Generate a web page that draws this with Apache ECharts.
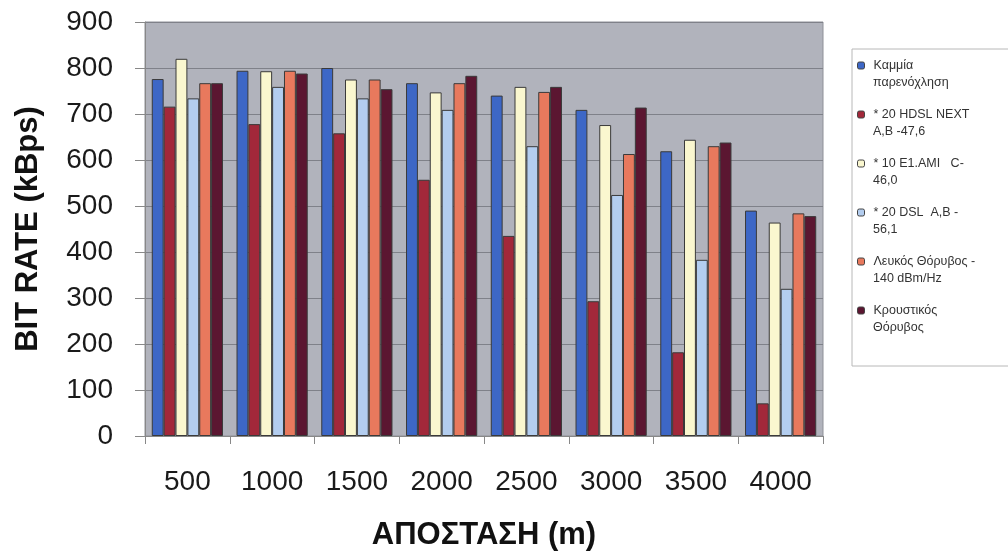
<!DOCTYPE html>
<html>
<head>
<meta charset="utf-8">
<script src="https://cdn.jsdelivr.net/npm/echarts@6/dist/echarts.min.js"></script>
<style>html,body{margin:0;padding:0;background:#fff}#c{width:1008px;height:558px}</style>
</head>
<body>
<div id="c"></div>
<script>
const categories = ['500','1000','1500','2000','2500','3000','3500','4000'];
const seriesNames = ['Καμμία παρενόχληση','* 20 HDSL NEXT A,B -47,6','* 10 E1.AMI C-46,0','* 20 DSL A,B -56,1','Λευκός Θόρυβος -140 dBm/Hz','Κρουστικός Θόρυβος'];
const legendLine1 = ['Καμμία','* 20 HDSL NEXT','* 10 E1.AMI   C-','* 20 DSL  A,B -','Λευκός Θόρυβος -','Κρουστικός'];
const legendLine2 = ['παρενόχληση','A,B -47,6','46,0','56,1','140 dBm/Hz','Θόρυβος'];
const colors = ['#3d67c6','#a2283a','#faf7cf','#b3cdef','#e8795d','#5b1631'];
const noInterference = [776,794,800,767,740,709,619,490];
const hdslNext = [716,678,658,557,435,293,182,71];
const e1ami = [820,793,775,747,759,676,644,464];
const dsl = [734,759,734,709,630,524,383,320];
const whiteNoise = [767,794,775,767,748,613,630,484];
const impulseNoise = [767,788,754,783,759,714,638,478];
const yTicks = [0,100,200,300,400,500,600,700,800,900];
const values = [noInterference,hdslNext,e1ami,dsl,whiteNoise,impulseNoise];

const chart = echarts.init(document.getElementById('c'));
const font = 'Liberation Sans, Arial, sans-serif';
chart.setOption({
  animation:false,
  backgroundColor:'#ffffff',
  grid:{left:145,right:185,top:22,bottom:122,show:true,backgroundColor:'#b1b3bc',borderColor:'#8e9098',borderWidth:1},
  graphic:[{type:'rect',shape:{x:852,y:49,width:200,height:317},style:{fill:'#fff',stroke:'#b8b8b8',lineWidth:1},z:0}],
  legend:[{
    orient:'vertical',left:852,top:54,itemWidth:7,itemHeight:7,itemGap:36,
    data:seriesNames,
    formatter:n=>legendLine1[seriesNames.indexOf(n)],
    textStyle:{fontFamily:font,fontSize:12.5,color:'#333',padding:[0,0,0,4]},
    itemStyle:{borderWidth:1,borderColor:'#444'}
  },{
    orient:'vertical',left:852,top:71,itemWidth:7,itemHeight:7,itemGap:36,
    data:seriesNames.map(n=>({name:n,icon:'none'})),
    formatter:n=>legendLine2[seriesNames.indexOf(n)],
    textStyle:{fontFamily:font,fontSize:12.5,color:'#333',padding:[0,0,0,4]}
  }],
  xAxis:{
    type:'category',data:categories,
    name:'ΑΠΟΣΤΑΣΗ (m)',nameLocation:'middle',nameGap:84,
    nameTextStyle:{fontFamily:font,fontSize:31,fontWeight:'bold',color:'#111'},
    axisLine:{lineStyle:{color:'#888',width:1}},
    axisTick:{show:true,length:8,lineStyle:{color:'#888'}},
    axisLabel:{fontFamily:font,fontSize:28,color:'#1a1a1a',margin:32}
  },
  yAxis:{
    type:'value',min:0,max:900,interval:100,
    name:'BIT RATE (kBps)',nameLocation:'middle',nameGap:101,
    nameTextStyle:{fontFamily:font,fontSize:31,fontWeight:'bold',color:'#111'},
    axisLine:{show:true,lineStyle:{color:'#888'}},
    axisTick:{show:true,length:10,lineStyle:{color:'#888'}},
    axisLabel:{fontFamily:font,fontSize:28,color:'#1a1a1a',margin:32,
      formatter:v=>yTicks.includes(v)?String(v):''},
    splitLine:{lineStyle:{color:'#7f8189',width:1}}
  },
  series:values.map((d,i)=>({
    type:'bar',name:seriesNames[i],data:d,
    barGap:'0%',barCategoryGap:'16%',
    itemStyle:{color:colors[i],borderColor:'#3a3a3a',borderWidth:1}
  }))
});
</script>
</body>
</html>
